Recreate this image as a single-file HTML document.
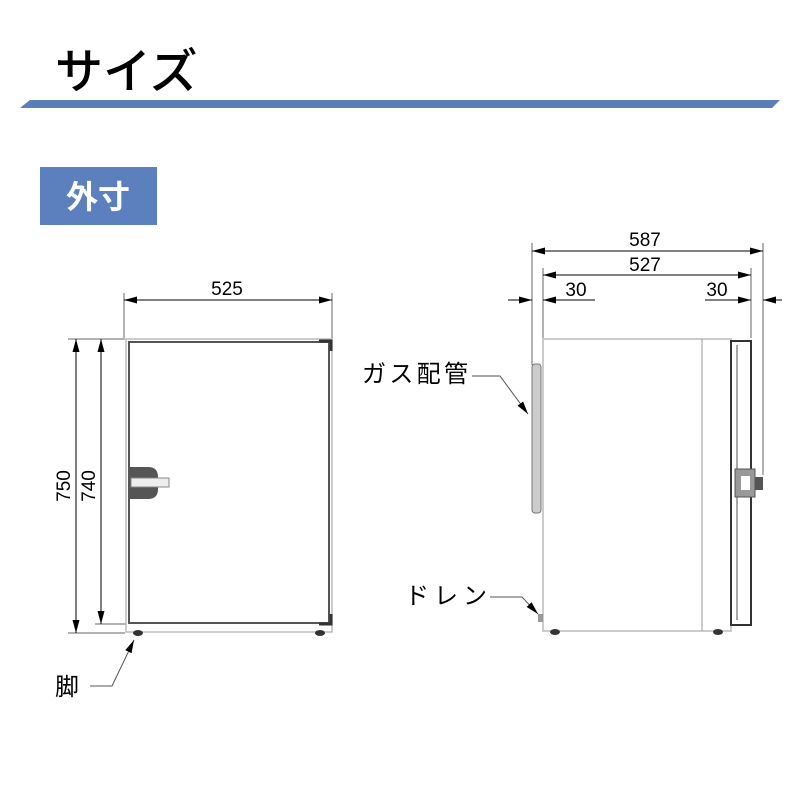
<!DOCTYPE html>
<html><head><meta charset="utf-8"><style>
body{margin:0;background:#fff}
svg text{font-family:"Liberation Sans","Noto Sans CJK JP",sans-serif}
</style></head><body>
<svg width="800" height="800" viewBox="0 0 800 800" xmlns="http://www.w3.org/2000/svg">
<defs>
<marker id="a" viewBox="0 0 13 7" refX="13" refY="3.5" markerWidth="13" markerHeight="7" markerUnits="userSpaceOnUse" orient="auto-start-reverse"><path d="M0,0L13,3.5L0,7z" fill="#000"/></marker>
</defs>
<text x="55" y="88" font-size="48" font-weight="500" font-family="Noto Sans CJK JP,sans-serif">サイズ</text>
<polygon points="30,100 780,100 772,108 20,108" fill="#5b7fba"/>
<rect x="40" y="167" width="117" height="58" fill="#5b80bd"/>
<text x="98" y="208" font-size="32" font-weight="bold" fill="#fff" text-anchor="middle">外寸</text>

<g stroke="#000" stroke-width="1" fill="none">
<line x1="124" y1="293" x2="124" y2="338" stroke="#666"/>
<line x1="332" y1="293" x2="332" y2="338" stroke="#666"/>
<line x1="124" y1="300" x2="332" y2="300" marker-start="url(#a)" marker-end="url(#a)"/>
<line x1="68" y1="339" x2="125" y2="339" stroke="#666"/>
<line x1="68" y1="633" x2="125" y2="633" stroke="#666"/>
<line x1="95" y1="624" x2="126" y2="624" stroke="#666"/>
<line x1="76" y1="339" x2="76" y2="633" marker-start="url(#a)" marker-end="url(#a)"/>
<line x1="101" y1="339" x2="101" y2="624" marker-start="url(#a)" marker-end="url(#a)"/>
<line x1="532" y1="243" x2="532" y2="365" stroke="#666"/>
<line x1="543" y1="268" x2="543" y2="338" stroke="#666"/>
<line x1="751" y1="268" x2="751" y2="338" stroke="#666"/>
<line x1="763" y1="243" x2="763" y2="475" stroke="#666"/>
<line x1="532" y1="251" x2="763" y2="251" marker-start="url(#a)" marker-end="url(#a)"/>
<line x1="543" y1="275" x2="751" y2="275" marker-start="url(#a)" marker-end="url(#a)"/>
<line x1="508" y1="300" x2="532" y2="300" marker-end="url(#a)"/>
<line x1="595" y1="300" x2="543" y2="300" marker-end="url(#a)"/>
<line x1="705" y1="300" x2="751" y2="300" marker-end="url(#a)"/>
<line x1="782" y1="300" x2="763" y2="300" marker-end="url(#a)"/>
<polyline points="472,376 500,376 528,414" stroke="#555" marker-end="url(#a)"/>
<polyline points="490,597 522,597 538,614" stroke="#555" marker-end="url(#a)"/>
<polyline points="90,686 112,686 134,640" stroke="#555" marker-end="url(#a)"/>
</g>
<g font-size="19" text-anchor="middle">
<text x="227" y="295">525</text>
<text x="645" y="246">587</text>
<text x="645" y="271">527</text>
<text x="576" y="296">30</text>
<text x="717" y="296">30</text>
<text transform="translate(70,486) rotate(-90)">750</text>
<text transform="translate(95,486) rotate(-90)">740</text>
</g>
<g font-size="24">
<text x="362" y="382" textLength="106">ガス配管</text>
<text x="405" y="604" textLength="82">ドレン</text>
<text x="55" y="695">脚</text>
</g>

<rect x="126" y="339" width="206" height="293" fill="#fff" stroke="#bbb" stroke-width="1.5"/>
<rect x="129" y="342" width="200" height="281" fill="#fff" stroke="#555" stroke-width="2"/>
<path d="M319,341h12v10M319,624h12v-10" stroke="#333" stroke-width="3" fill="none"/>
<path d="M128,467h20q10,0 10,10v12q0,10 -10,10h-20z" fill="#555"/>
<rect x="131" y="478" width="38" height="9" fill="#eee" stroke="#888"/>
<ellipse cx="138" cy="633" rx="5" ry="3" fill="#333"/>
<ellipse cx="320" cy="633" rx="5" ry="3" fill="#333"/>

<rect x="543" y="339" width="188" height="292" fill="#fff" stroke="#bbb" stroke-width="1.5"/>
<line x1="702" y1="339" x2="702" y2="631" stroke="#999"/>
<rect x="731" y="341" width="20" height="284" fill="#fff" stroke="#333" stroke-width="2"/>
<line x1="737" y1="345" x2="737" y2="620" stroke="#888" stroke-width="1.5"/>
<rect x="532" y="364" width="9" height="149" rx="3" fill="#ccc" stroke="#777"/>
<rect x="735" y="469" width="20" height="28" fill="#999" stroke="#555"/>
<rect x="741" y="476" width="9" height="14" fill="#fff"/>
<rect x="755" y="477" width="8" height="13" fill="#555"/>
<ellipse cx="555" cy="632" rx="5" ry="3" fill="#333"/>
<ellipse cx="718" cy="632" rx="5" ry="3" fill="#333"/>
<rect x="538" y="614" width="5" height="8" fill="#999"/>
</svg>
</body></html>
